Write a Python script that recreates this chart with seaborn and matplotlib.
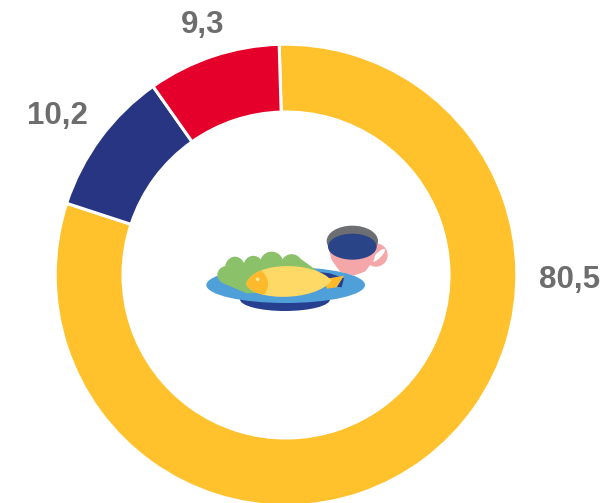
#!/usr/bin/env python3
"""Donut chart with a small meal illustration in the hole."""

import matplotlib
matplotlib.use("Agg")
import matplotlib.pyplot as plt
import seaborn as sns
from matplotlib.patches import Ellipse, Polygon, Circle, PathPatch
from matplotlib.path import Path

categories = ["Amarillo", "Azul", "Rojo"]
values = [80.5, 10.2, 9.3]
value_labels = ["80,5", "10,2", "9,3"]
colors = ["#FFC22D", "#273582", "#E4002B"]

WIDTH, HEIGHT = 613, 503
CX, CY = 286, 503 - 275
OUTER, INNER = 230.8, 163


def z(x, y):
    """Map illustration coordinates (3x crop) to figure pixels."""
    return 190 + x / 3, 503 - (210 + y / 3)


def ell(ax, x, y, w, h, color, zorder, angle=0):
    patch = Ellipse(z(x, y), w / 3, h / 3, angle=angle, color=color, lw=0, zorder=zorder)
    ax.add_patch(patch)
    return patch


def poly(ax, pts, color, zorder):
    ax.add_patch(Polygon([z(*p) for p in pts], closed=True, color=color, lw=0, zorder=zorder))


def draw_meal(ax):
    # cup
    ell(ax, 558, 135, 70, 70, "#F4A6A8", 3)
    ell(ax, 566, 136, 16, 52, "white", 3.1, angle=-45)
    poly(ax, [(412, 100), (562, 100), (552, 150), (525, 185), (490, 197), (450, 185), (425, 150)], "#F4A6A8", 3.2)
    ell(ax, 487, 93, 154, 92, "#6D6E71", 3.3)
    ell(ax, 487, 110, 146, 78, "#2A4488", 3.4)
    # plate
    ell(ax, 285, 268, 270, 70, "#263F8F", 4)
    ell(ax, 287, 225, 476, 108, "#4F9FD9", 5)
    poly(ax, [(380, 185), (420, 190), (462, 205), (455, 232), (400, 225)], "#263F8F", 5.1)
    # lettuce
    for x, y, w, h in [(135, 175, 60, 70), (190, 170, 60, 65), (245, 160, 70, 70),
                       (305, 165, 65, 65), (112, 195, 60, 55)]:
        ell(ax, x, y, w, h, "#8BC168", 6)
    poly(ax, [(85, 190), (130, 165), (330, 145), (385, 185), (300, 245), (170, 250), (100, 220)], "#8BC168", 6)
    # fish
    poly(ax, [(405, 207), (462, 197), (440, 232), (410, 236)], "#FDB92C", 7)
    body = Path(
        [z(168, 222), z(190, 152), z(375, 152), z(425, 212), z(375, 275), z(190, 275), z(168, 222)],
        [Path.MOVETO, Path.CURVE4, Path.CURVE4, Path.CURVE4, Path.CURVE4, Path.CURVE4, Path.CURVE4],
    )
    fish = PathPatch(body, facecolor="#FFD966", lw=0, zorder=7.1)
    ax.add_patch(fish)
    head = ell(ax, 170, 222, 128, 110, "#FDB92C", 7.2)
    head.set_clip_path(fish)
    ax.add_patch(Circle(z(203, 208), 1.8, color="#FFE9A0", lw=0, zorder=7.4))


sns.set_theme(style="white")
plt.rcParams["font.family"] = ["Liberation Sans", "DejaVu Sans"]

fig = plt.figure(figsize=(WIDTH / 100, HEIGHT / 100), dpi=100)
ax = fig.add_axes([0, 0, 1, 1])
ax.pie(
    values,
    colors=colors,
    center=(CX, CY),
    radius=OUTER,
    startangle=91.7,
    counterclock=False,
    frame=True,
    wedgeprops={"width": OUTER - INNER, "edgecolor": "white", "linewidth": 2.2},
)
ax.set_xlim(0, WIDTH)
ax.set_ylim(0, HEIGHT)
ax.set_aspect("equal")
ax.axis("off")

label_pos = [(570, 503 - 288), (57, 503 - 124), (203, 503 - 33)]
for text, (x, y) in zip(value_labels, label_pos):
    ax.text(x, y, text, ha="center", va="baseline", fontsize=22.5, fontweight="bold", color="#6D6D6D")

draw_meal(ax)
fig.savefig("out.png", dpi=100)
